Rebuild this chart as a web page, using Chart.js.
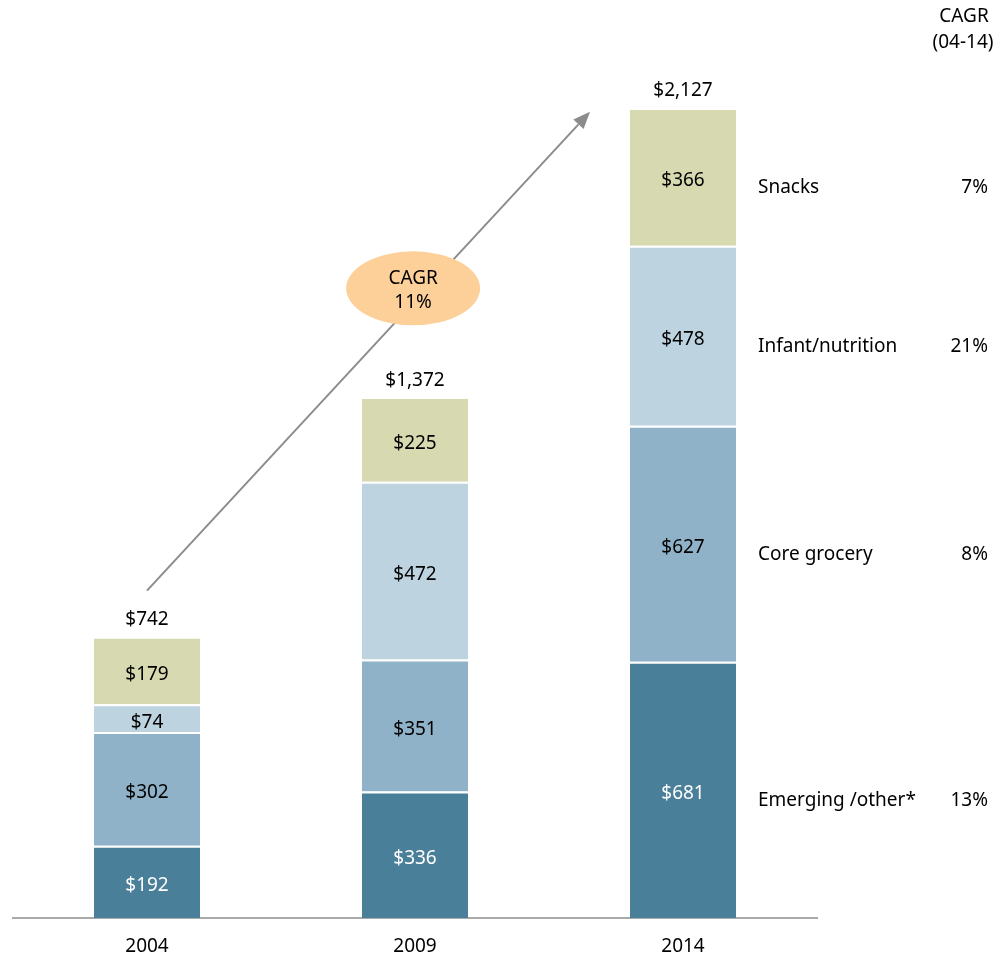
<!DOCTYPE html>
<html>
<head>
<meta charset="utf-8">
<script src="https://cdn.jsdelivr.net/npm/chart.js@4/dist/chart.umd.min.js"></script>
<style>
html,body{margin:0;padding:0;background:#fff;}
#wrap{position:relative;width:1000px;height:959px;}
</style>
</head>
<body>
<div id="wrap"><canvas id="c"></canvas></div>
<script>
const years = ['2004', '2009', '2014'];
const segmentNames = ['Emerging /other*', 'Core grocery', 'Infant/nutrition', 'Snacks'];
const emerging = [192, 336, 681];
const coreGrocery = [302, 351, 627];
const infantNutrition = [74, 472, 478];
const snacks = [179, 225, 366];
const totals = ['$742', '$1,372', '$2,127'];
const segmentCagr = ['13%', '8%', '21%', '7%'];
const overallCagr = ['CAGR', '11%'];
const cagrHeader = ['CAGR', '(04-14)'];
const colors = ['#4a7f9a', '#8fb2c8', '#bed3e0', '#d7dab0'];
const labelColors = ['#ffffff', '#000000', '#000000', '#000000'];

const FONT = 'Noto Sans';
Chart.defaults.font.family = FONT;

const seriesValues = [emerging, coreGrocery, infantNutrition, snacks];

const annotations = {
  id: 'annotations',
  afterDatasetsDraw(chart) {
    const ctx = chart.ctx;
    const xs = chart.scales.x, ys = chart.scales.y;
    ctx.save();
    ctx.textAlign = 'center';
    ctx.textBaseline = 'middle';
    ctx.font = '19px "' + FONT + '"';
    // segment value labels
    chart.data.datasets.forEach((ds, di) => {
      const meta = chart.getDatasetMeta(di);
      meta.data.forEach((bar, i) => {
        ctx.fillStyle = labelColors[di];
        ctx.fillText('$' + ds.data[i], bar.x, (bar.y + bar.base) / 2 + 4);
      });
    });
    // totals
    const topMeta = chart.getDatasetMeta(chart.data.datasets.length - 1);
    topMeta.data.forEach((bar, i) => {
      ctx.fillStyle = '#000';
      ctx.fillText(totals[i], bar.x, bar.y - 17);
    });
    // right side labels for last bar
    const last = years.length - 1;
    chart.data.datasets.forEach((ds, di) => {
      const bar = chart.getDatasetMeta(di).data[last];
      const yc = (bar.y + bar.base) / 2 + 11;
      ctx.fillStyle = '#000';
      ctx.textAlign = 'left';
      ctx.fillText(segmentNames[di], bar.x + 75, yc);
      ctx.textAlign = 'right';
      ctx.fillText(segmentCagr[di], 988, yc);
    });
    // header
    ctx.textAlign = 'center';
    ctx.fillText(cagrHeader[0], 964, 17);
    ctx.fillText(cagrHeader[1], 963, 43);
    // arrow
    const x0 = xs.getPixelForValue(0), y0 = ys.getPixelForValue(870);
    const x1 = xs.getPixelForValue(1.653), y1 = ys.getPixelForValue(2142);
    const ang = Math.atan2(y1 - y0, x1 - x0);
    const headLen = 17, headW = 7;
    ctx.strokeStyle = '#8c8c8c';
    ctx.fillStyle = '#8c8c8c';
    ctx.lineWidth = 2;
    ctx.beginPath();
    ctx.moveTo(x0, y0);
    ctx.lineTo(x1 - Math.cos(ang) * headLen, y1 - Math.sin(ang) * headLen);
    ctx.stroke();
    ctx.beginPath();
    ctx.moveTo(x1, y1);
    const bx = x1 - Math.cos(ang) * headLen, by = y1 - Math.sin(ang) * headLen;
    ctx.lineTo(bx + Math.sin(ang) * headW, by - Math.cos(ang) * headW);
    ctx.lineTo(bx - Math.sin(ang) * headW, by + Math.cos(ang) * headW);
    ctx.closePath();
    ctx.fill();
    // ellipse
    const ex = xs.getPixelForValue(0.993), ey = ys.getPixelForValue(1673);
    ctx.fillStyle = '#fdd09a';
    ctx.beginPath();
    ctx.ellipse(ex, ey, 67, 37, 0, 0, Math.PI * 2);
    ctx.fill();
    ctx.fillStyle = '#000';
    ctx.textAlign = 'center';
    ctx.fillText(overallCagr[0], ex, ey - 10);
    ctx.fillText(overallCagr[1], ex, ey + 14);
    ctx.restore();
  }
};

new Chart(document.getElementById('c'), {
  type: 'bar',
  data: {
    labels: years,
    datasets: seriesValues.map((vals, i) => ({
      label: segmentNames[i],
      data: vals,
      backgroundColor: colors[i],
      borderColor: '#ffffff',
      borderWidth: {top: 2, bottom: 0, left: 0, right: 0},
      borderSkipped: false,
      categoryPercentage: 1,
      barPercentage: 106 / 268
    }))
  },
  options: {
    responsive: true,
    maintainAspectRatio: false,
    animation: false,
    layout: {padding: {left: 13, right: 183, top: 90, bottom: 0}},
    plugins: {legend: {display: false}, tooltip: {enabled: false}},
    scales: {
      x: {
        stacked: true,
        grid: {display: false, drawTicks: false},
        border: {display: true, color: '#aaaaaa', width: 2},
        ticks: {color: '#000', font: {size: 19, family: FONT}, padding: 17},
        afterFit(s) { s.height = 41; }
      },
      y: {
        stacked: true,
        display: false,
        min: 0,
        max: 2200
      }
    }
  },
  plugins: [annotations]
});
</script>
</body>
</html>
